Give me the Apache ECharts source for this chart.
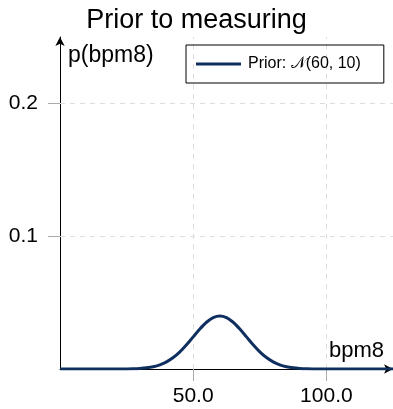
<!DOCTYPE html>
<html>
<head>
<meta charset="utf-8">
<script src="https://cdn.jsdelivr.net/npm/echarts@6/dist/echarts.min.js"></script>
<style>
  html, body { margin: 0; padding: 0; background: #fff; }
  #chart { width: 393px; height: 409px; }
</style>
</head>
<body>
<div id="chart"></div>
<script>
// Prior density over bpm8, sampled every 2.5 bpm
const bpm = [0, 10, 20, 25, 27.5, 30, 32.5, 35, 37.5, 40, 42.5, 45, 47.5, 50, 52.5, 55, 57.5,
             60, 62.5, 65, 67.5, 70, 72.5, 75, 77.5, 80, 82.5, 85, 87.5, 90, 92.5, 95, 100, 110, 125];
const density = [0, 0, 0.00001, 0.00009, 0.0002, 0.00044, 0.00091, 0.00175, 0.00317, 0.0054,
                 0.00863, 0.01295, 0.01826, 0.0242, 0.03011, 0.03521, 0.03866,
                 0.03989, 0.03866, 0.03521, 0.03011, 0.0242, 0.01826, 0.01295, 0.00863,
                 0.0054, 0.00317, 0.00175, 0.00091, 0.00044, 0.0002, 0.00009, 0.00001, 0, 0];
const xTicks = [50, 100];
const yTicks = [0.1, 0.2];

const FONT = 'Liberation Sans';
const LINE = '#0f2f5f';
const chart = echarts.init(document.getElementById('chart'), null, { renderer: 'canvas' });

// dashed grid lines at the labelled ticks only
const gridLines = xTicks.map(v => ({ xAxis: v })).concat(yTicks.map(v => ({ yAxis: v })));

chart.setOption({
  animation: false,
  backgroundColor: '#fff',
  title: {
    text: 'Prior to measuring',
    left: 'center',
    top: 2,
    textStyle: { fontFamily: FONT, fontSize: 27, fontWeight: 'normal', color: '#000' }
  },
  legend: {
    data: [{ name: 'Prior: 𝒩(60, 10)', icon: 'rect' }],
    left: 186,
    top: 45,
    padding: [10, 23, 10, 10],
    itemWidth: 45,
    itemHeight: 3,
    borderColor: '#000',
    borderWidth: 1,
    textStyle: { fontFamily: FONT, fontSize: 16, color: '#000', lineHeight: 18, padding: [0, 0, 0, 2] }
  },
  grid: { left: 60, right: 0, top: 37, bottom: 40, containLabel: false },
  xAxis: {
    type: 'value',
    min: 0,
    max: 125,
    interval: 50,
    axisLine: {
      show: true,
      symbol: ['none', 'arrow'],
      symbolSize: [7, 9],
      lineStyle: { color: '#000', width: 1 }
    },
    axisTick: {
      show: true, length: 12, customValues: xTicks,
      lineStyle: { color: '#aaa', width: 1 }
    },
    axisLabel: {
      customValues: xTicks,
      formatter: v => v.toFixed(1),
      fontFamily: FONT, fontSize: 21, color: '#000', margin: 17
    },
    splitLine: { show: false }
  },
  yAxis: {
    type: 'value',
    min: 0,
    max: 0.25,
    interval: 0.1,
    axisLine: {
      show: true,
      symbol: ['none', 'arrow'],
      symbolSize: [7, 9],
      lineStyle: { color: '#000', width: 1 }
    },
    axisTick: {
      show: true, length: 12, customValues: yTicks,
      lineStyle: { color: '#aaa', width: 1 }
    },
    axisLabel: {
      customValues: yTicks,
      formatter: v => v.toFixed(1),
      fontFamily: FONT, fontSize: 21, color: '#000', margin: 22
    },
    splitLine: { show: false }
  },
  graphic: [
    {
      type: 'text', left: 68, top: 44,
      style: { text: 'p(bpm8)', fontFamily: FONT, fontSize: 23, fill: '#000' }
    },
    {
      type: 'text', right: 9, top: 340,
      style: { text: 'bpm8', fontFamily: FONT, fontSize: 22, fill: '#000' }
    }
  ],
  series: [{
    name: 'Prior: 𝒩(60, 10)',
    type: 'line',
    data: bpm.map((x, i) => [x, density[i]]),
    smooth: 0.3,
    symbol: 'none',
    lineStyle: { color: LINE, width: 3 },
    itemStyle: { color: LINE },
    z: 3,
    markLine: {
      silent: true,
      symbol: 'none',
      label: { show: false },
      lineStyle: { color: '#ddd', type: [5, 5], width: 1 },
      emphasis: { disabled: true },
      data: gridLines,
      z: 1
    }
  }]
});
</script>
</body>
</html>
